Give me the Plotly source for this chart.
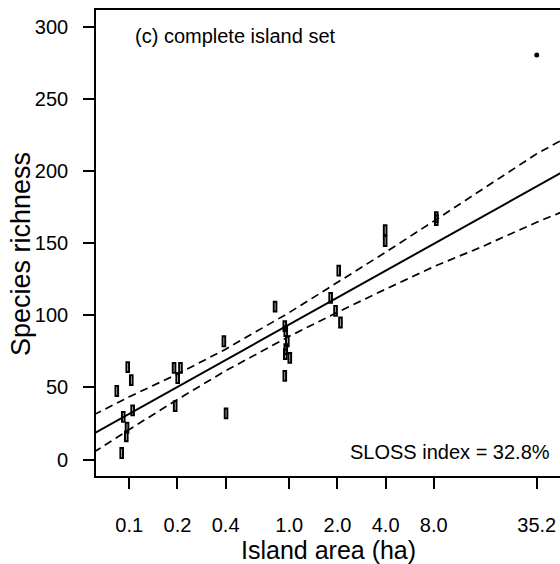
import plotly.graph_objects as go

# ---- data ----
area = [0.082, 0.096, 0.101, 0.103, 0.090, 0.095, 0.094, 0.088,
        0.187, 0.205, 0.197, 0.190,
        0.383, 0.395,
        0.80, 0.92, 0.933, 0.954, 0.933, 0.927, 0.989, 0.92,
        1.78, 2.00, 1.91, 2.05,
        3.90, 3.90, 8.14, 8.14]
richness = [47.5, 64, 55, 34, 29.5, 22, 16, 4.5,
            63.5, 63.5, 56.5, 37,
            82, 32,
            106, 92.5, 89, 82, 76.5, 73, 70.5, 58,
            112, 131, 103, 95,
            159, 151.5, 168, 166]

outlier_area = [35.2]
outlier_richness = [280.5]

fit_area = [0.06, 60]
fit_richness = [18.0, 203.7]

band_area = [0.06, 0.1, 0.2, 0.4, 1, 2, 4, 8, 16, 35.2, 60]
band_upper = [31.0, 43.5, 59.2, 76.5, 101.9, 122.5, 143.7, 165.3, 187.0, 212.0, 226.0]
band_lower = [5.0, 20.8, 41.6, 61.5, 85.4, 102.1, 118.1, 133.7, 147.5, 164.5, 175.0]

x_tickvals = [0.1, 0.2, 0.4, 1, 2, 4, 8, 35.2]
x_ticktext = ["0.1", "0.2", "0.4", "1.0", "2.0", "4.0", "8.0", "35.2"]
y_tickvals = [0, 50, 100, 150, 200, 250, 300]

FONT = "Liberation Sans, Arial, Helvetica, sans-serif"

fig = go.Figure()
fig.add_trace(go.Scatter(x=band_area, y=band_upper, mode="lines",
                         line=dict(color="black", width=1.7, dash="8px,5px"),
                         showlegend=False, hoverinfo="skip"))
fig.add_trace(go.Scatter(x=band_area, y=band_lower, mode="lines",
                         line=dict(color="black", width=1.7, dash="8px,5px"),
                         showlegend=False, hoverinfo="skip"))
fig.add_trace(go.Scatter(x=fit_area, y=fit_richness, mode="lines",
                         line=dict(color="black", width=2),
                         showlegend=False))
# data points (hover targets); the visible open tall rectangles are drawn as
# pixel-sized shapes anchored at each data point through the axes
fig.add_trace(go.Scatter(x=area, y=richness, mode="markers",
                         marker=dict(symbol="square", size=8, color="rgba(0,0,0,0)"),
                         showlegend=False))
fig.add_trace(go.Scatter(x=outlier_area, y=outlier_richness, mode="markers",
                         marker=dict(symbol="circle", size=5, color="black"),
                         showlegend=False))

shapes = []
for a, s in zip(area, richness):
    shapes.append(dict(type="rect", xref="x", yref="y",
                       xsizemode="pixel", ysizemode="pixel",
                       xanchor=a, yanchor=s,
                       x0=-2.6, x1=2.6, y0=-4.9, y1=4.9,
                       line=dict(color="black", width=2), fillcolor="rgba(0,0,0,0)",
                       layer="above"))

axis_common = dict(showline=True, linecolor="black", linewidth=1.7, ticks="outside",
                   ticklen=11, tickwidth=1.7, tickcolor="black", showgrid=False,
                   zeroline=False, tickfont=dict(family=FONT, size=20, color="black"))

fig.update_layout(
    width=560, height=564,
    margin=dict(l=96, r=0, t=10, b=88),
    paper_bgcolor="white", plot_bgcolor="white",
    shapes=shapes,
    xaxis=dict(type="log", range=[-1.208, 1.692], tickvals=x_tickvals, ticktext=x_ticktext,
               mirror=True, ticklabelstandoff=19, **axis_common),
    yaxis=dict(range=[-11.44, 311.66], tickvals=y_tickvals, mirror=False,
               ticklabelstandoff=11, **axis_common),
    annotations=[
        dict(text="(c) complete island set", xref="paper", yref="paper",
             x=(132.7 - 96) / 464, y=(476 - 35.5) / 466, xanchor="left", yanchor="middle",
             showarrow=False, font=dict(family=FONT, size=20, color="black")),
        dict(text="SLOSS index = 32.8%", xref="paper", yref="paper",
             x=(552 - 96) / 464, y=(476 - 452) / 466, xanchor="right", yanchor="middle",
             showarrow=False, font=dict(family=FONT, size=20, color="black")),
        dict(text="Island area (ha)", xref="paper", yref="paper",
             x=0.5, y=(476 - 550) / 466, xanchor="center", yanchor="middle",
             showarrow=False, font=dict(family=FONT, size=25, color="black")),
        dict(text="Species richness", xref="paper", yref="paper", textangle=-90,
             x=(21 - 96) / 464, y=(476 - 254) / 466, xanchor="center", yanchor="middle",
             showarrow=False, font=dict(family=FONT, size=27, color="black")),
    ],
)

fig.write_html("out.html")
